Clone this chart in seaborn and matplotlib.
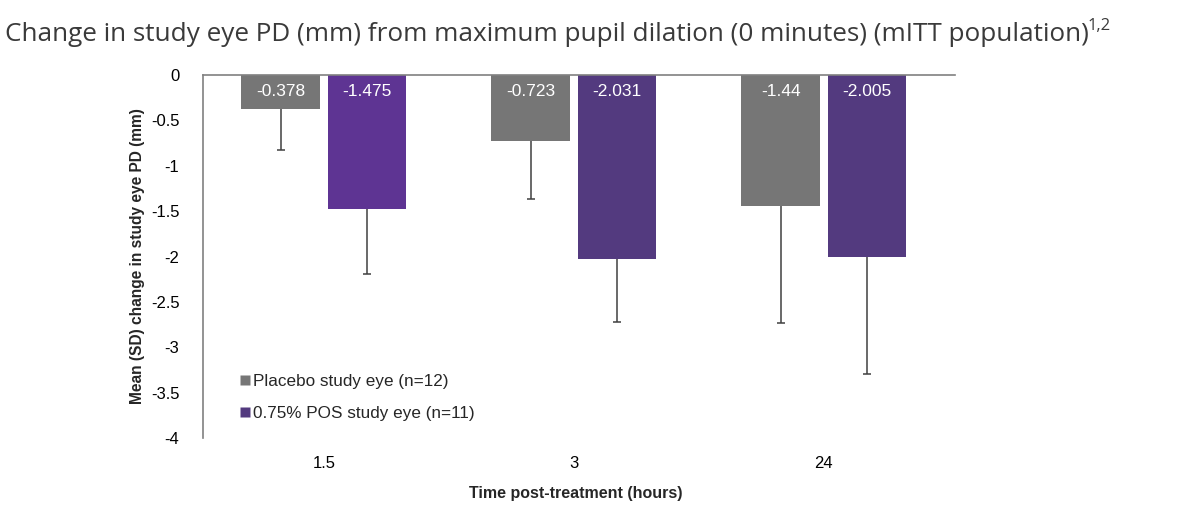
import matplotlib
matplotlib.use("Agg")
import matplotlib.pyplot as plt
import pandas as pd
import seaborn as sns
from matplotlib.lines import Line2D

# data
timepoints = ["1.5", "3", "24"]
groups = ["Placebo study eye (n=12)", "0.75% POS study eye (n=11)"]
placebo_mean = [-0.378, -0.723, -1.44]
pos_mean = [-1.475, -2.031, -2.005]
placebo_sd = [0.448, 0.643, 1.296]
pos_sd = [0.721, 0.690, 1.293]
value_labels_placebo = ["-0.378", "-0.723", "-1.44"]
value_labels_pos = ["-1.475", "-2.031", "-2.005"]

gray = "#767676"
purple_colors = ["#5e3493", "#533a7f", "#533a7f"]

df = pd.DataFrame({
    "time": timepoints * 2,
    "group": [groups[0]] * 3 + [groups[1]] * 3,
    "mean": placebo_mean + pos_mean,
    "sd": placebo_sd + pos_sd,
    "label": value_labels_placebo + value_labels_pos,
})

sns.set_style("white")
plt.rcParams["font.family"] = ["Liberation Sans", "DejaVu Sans"]

fig = plt.figure(figsize=(11.83, 5.21), dpi=100)
ax = fig.add_axes([0.1716, 0.1593, 0.6357, 0.6967])

sns.barplot(data=df, x="time", y="mean", hue="group", order=timepoints,
            hue_order=groups, palette=[gray, purple_colors[0]],
            width=0.69, gap=0.087, errorbar=None, ax=ax, legend=False,
            saturation=1)

# colour, error bars and labels per bar
bars = ax.patches
for i, (_, row) in enumerate(df.iterrows()):
    p = bars[i]
    if i >= 3:
        p.set_facecolor(purple_colors[i - 3])
    p.set_edgecolor("none")
    xc = p.get_x() + p.get_width() / 2
    eb = ax.errorbar([xc], [row["mean"]], yerr=[[row["sd"]], [0]], fmt="none",
                     ecolor="#404040", elinewidth=1.1, capsize=3, capthick=1.1,
                     zorder=1)
    # keep only the lower cap
    caps = eb.lines[1]
    if len(caps) > 1:
        caps[1].set_visible(False)
    ax.text(xc, -0.18, row["label"], ha="center", va="center", color="white",
            fontsize=12.5, zorder=5)

ax.set_ylim(-4, 0)
ax.set_xlim(-0.483, 2.525)
ax.set_yticks([0, -0.5, -1, -1.5, -2, -2.5, -3, -3.5, -4])
ax.set_yticklabels(["0", "-0.5", "-1", "-1.5", "-2", "-2.5", "-3", "-3.5", "-4"])
ax.tick_params(axis="both", length=0, labelsize=12, colors="black")
ax.tick_params(axis="y", pad=17)
ax.tick_params(axis="x", pad=13)

for s in ["right", "bottom"]:
    ax.spines[s].set_visible(False)
ax.spines["left"].set_color("#808080")
ax.spines["top"].set_color("#808080")
ax.spines["left"].set_linewidth(1.2)
ax.spines["top"].set_linewidth(1.2)

ax.set_xlabel("Time post-treatment (hours)", fontsize=11.5, fontweight="bold")
ax.xaxis.set_label_coords(0.495, -0.132)
ax.set_ylabel("Mean (SD) change in study eye PD (mm)", fontsize=11.2,
              fontweight="bold")
ax.yaxis.set_label_coords(-0.077, 0.5)

handles = [Line2D([], [], marker="s", linestyle="none", markersize=6.5,
                  markerfacecolor=c, markeredgecolor="none")
           for c in [gray, purple_colors[1]]]
ax.legend(handles, groups, loc="lower left", bbox_to_anchor=(0.028, 0.004),
          frameon=False, fontsize=12.3, handletextpad=0.2, labelspacing=1.0,
          handlelength=0.6)

title_font = ["Open Sans", "DejaVu Sans"]
title = fig.text(0.004, 0.934, "Change in study eye PD (mm) from maximum pupil dilation (0 minutes) (mITT population)",
                 fontsize=17, family=title_font, color="#3a3a3a",
                 va="center", ha="left")
fig.canvas.draw()
bb = title.get_window_extent()
# fit title width to the reference layout
title.set_fontsize(17 * 1085 / bb.width)
fig.canvas.draw()
bb = title.get_window_extent()
fig.text(bb.x1 / fig.bbox.width - 0.001, 0.95, "1,2", fontsize=12,
         family=title_font, color="#3a3a3a", va="center", ha="left")

fig.savefig("out.png", dpi=100)
